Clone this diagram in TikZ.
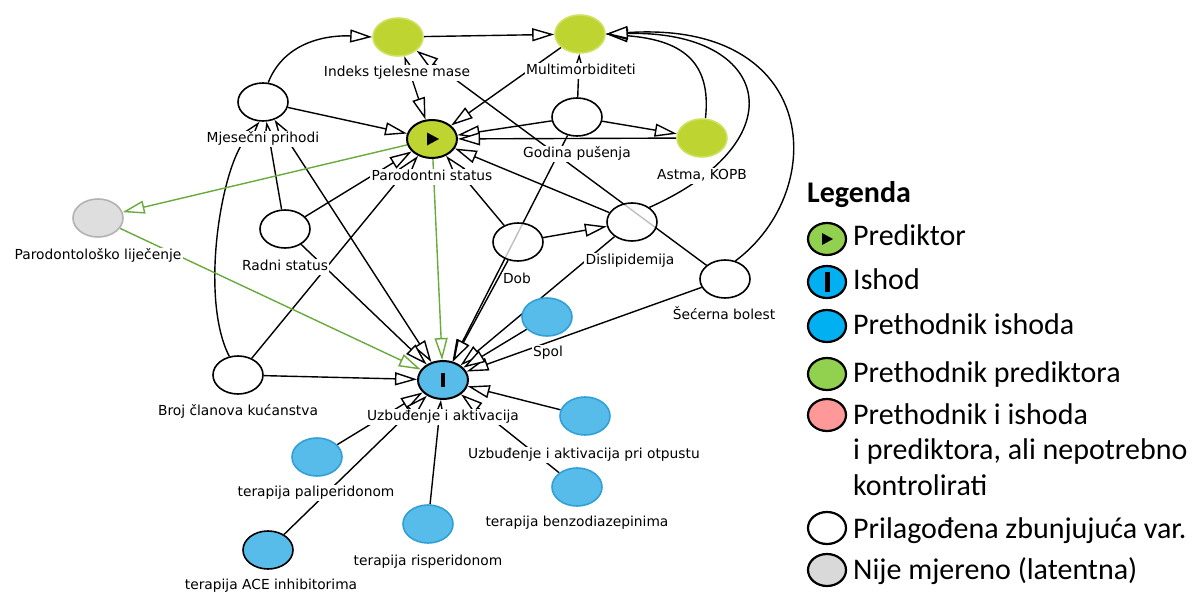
\documentclass[tikz,border=0pt]{standalone}
\usepackage{fontspec}
\setmainfont{DejaVu Sans}
\newfontfamily\legfont{Carlito}
\usetikzlibrary{shapes.geometric,arrows.meta}
\pgfdeclarelayer{background}
\pgfsetlayers{background,main}
\definecolor{dgreen}{RGB}{190,212,48}
\definecolor{dgreenb}{RGB}{208,224,96}
\definecolor{dblue}{RGB}{88,188,234}
\definecolor{dblueb}{RGB}{48,160,214}
\definecolor{dgray}{RGB}{222,222,222}
\definecolor{dgrayb}{RGB}{178,178,178}
\definecolor{egreen}{RGB}{104,170,60}
\definecolor{lgreen}{RGB}{146,208,80}
\definecolor{lblue}{RGB}{0,176,240}
\definecolor{lpink}{RGB}{255,153,153}
\definecolor{lgray}{RGB}{217,217,217}
\begin{document}
\begin{tikzpicture}[x=1pt,y=-1pt,
  >={Triangle[length=22pt,width=13pt,fill=white]},
  var/.style={ellipse,minimum width=50pt,minimum height=38pt,inner sep=0pt,line width=1.6pt},
  adj/.style={var,draw=black,fill=white,fill opacity=0.75,text opacity=1},
  anc/.style={var,draw=dgreenb,fill=dgreen},
  oanc/.style={var,draw=dblueb,fill=dblue},
  lat/.style={var,draw=dgrayb,fill=dgray},
  lbl/.style={fill=white,inner sep=1.2pt,text height=10pt,text depth=3pt,font=\fontsize{13.8}{16}\selectfont},
  ed/.style={line width=1.4pt,->},
  bied/.style={line width=1.4pt,<->},
  ged/.style={line width=1.4pt,->,draw=egreen},
  legell/.style={ellipse,minimum width=38pt,minimum height=32pt,inner sep=0pt,line width=2.2pt,draw=black},
  legtxt/.style={anchor=base west,inner sep=0pt,font=\legfont\fontsize{30}{36}\selectfont}
]
\useasboundingbox (0,0) rectangle (1195,594);
% nodes
\node[anc] (BMI) at (398,37) {};
\node[anc] (MM) at (580,34) {};
\node[adj] (MP) at (263,102) {};
\node[var,draw=black,fill=dgreen,line width=2pt] (PS) at (432,139) {};
\node[adj] (GP) at (577,117) {};
\node[anc] (AK) at (702,138) {};
\node[lat] (PL) at (98,218) {};
\node[adj] (RS) at (285,229) {};
\node[adj] (DOB) at (518,242) {};
\node[adj] (DL) at (632,222) {};
\node[adj] (SB) at (725,279) {};
\node[oanc] (SP) at (547,317) {};
\node[adj] (BC) at (238,375) {};
\node[var,draw=black,fill=dblue,line width=2pt] (UA) at (443,380) {};
\node[oanc] (UO) at (585,416) {};
\node[oanc] (TP) at (317,457) {};
\node[oanc] (TB) at (577,487) {};
\node[oanc] (TR) at (428,524) {};
\node[var,draw=black,fill=dblue] (TA) at (268,550) {};
\fill (PS.center) ++(-5,-6.5) -- ++(0,13) -- ++(12,-6.5) -- cycle;
\fill (UA.center) ++(-2,-7) rectangle ++(4,14);
% edges
\begin{pgfonlayer}{background}
\fill[white] (0,0) rectangle (1195,594);
\draw[ed] (MP.75) .. controls (285,40) and (330,35) .. (BMI.west);
\draw[ed] (BMI) -- (MM);
\draw[bied] (BMI) -- (PS);
\draw[ed] (SB) -- (BMI);
\draw[ed] (MM) -- (PS);
\draw[ed] (GP) -- (MM);
\draw[ed] (MP) -- (PS);
\draw[ed] (GP) -- (PS);
\draw[ed] (AK) -- (PS);
\draw[ed] (GP) -- (AK);
\draw[ed] (AK.80) .. controls (712,60) and (680,40) .. (MM.east);
\draw[ed] (DL.40) .. controls (800,140) and (770,30) .. (MM.east);
\draw[ed] (SB.60) .. controls (830,190) and (820,20) .. (MM.east);
\draw[ed] (DL) -- (PS);
\draw[ed] (DOB) -- (PS);
\draw[ed] (RS) -- (PS);
\draw[ed] (BC) -- (PS);
\draw[ed] (RS) -- (MP);
\draw[ed] (BC.115) .. controls (200,300) and (220,170) .. (MP.260);
\draw[bied] (MP) -- (UA);
\draw[ed] (RS) -- (UA);
\draw[ed] (BC) -- (UA);
\draw[ed] (GP) -- (UA);
\draw[ed] (DOB) -- (UA);
\draw[ed] (DOB) -- (DL);
\draw[ed] (DL) -- (UA);
\draw[ed] (SB) -- (UA);
\draw[ed] (SP) -- (UA);
\draw[ed] (UO) -- (UA);
\draw[ed] (TB) -- (UA);
\draw[ed] (TR) -- (UA);
\draw[ed] (TP) -- (UA);
\draw[ed] (TA) -- (UA);
\draw[ged] (PS) -- (PL);
\draw[ged] (PL) -- (UA);
\draw[ged] (PS) -- (UA);
\end{pgfonlayer}
% labels
\node[lbl] (BMIl) at (397,73) {Indeks tjelesne mase};
\node[lbl] (MMl) at (581,71) {Multimorbiditeti};
\node[lbl] (MPl) at (263,139) {Mjesečni prihodi};
\node[lbl] (PSl) at (432,177) {Parodontni status};
\node[lbl] (GPl) at (577,154) {Godina pušenja};
\node[lbl] (AKl) at (702,176) {Astma, KOPB};
\node[lbl] (PLl) at (98,256) {Parodontološko liječenje};
\node[lbl] (RSl) at (285,267) {Radni status};
\node[lbl] (DOBl) at (517,280) {Dob};
\node[lbl] (DLl) at (630,261) {Dislipidemija};
\node[lbl] (SBl) at (724,316) {Šećerna bolest};
\node[lbl] (SPl) at (548,353) {Spol};
\node[lbl] (BCl) at (238,412) {Broj članova kućanstva};
\node[lbl] (UAl) at (443,417) {Uzbuđenje i aktivacija};
\node[lbl] (UOl) at (584,455) {Uzbuđenje i aktivacija pri otpustu};
\node[lbl] (TPl) at (316,493) {terapija paliperidonom};
\node[lbl] (TBl) at (577,523) {terapija benzodiazepinima};
\node[lbl] (TRl) at (428,562) {terapija risperidonom};
\node[lbl] (TAl) at (271,586) {terapija ACE inhibitorima};
% legend
\node[anchor=base west,inner sep=0pt,font=\legfont\bfseries\fontsize{30}{36}\selectfont] (legT) at (807,202) {Legenda};
\node[legell,fill=lgreen] (L1) at (827,239) {};
\fill (L1.center) ++(-5,-6) -- ++(0,12) -- ++(11,-6) -- cycle;
\node[legtxt] (L1t) at (853,245) {Prediktor};
\node[legell,fill=lblue] (L2) at (827,282) {};
\fill (L2.center) ++(-2.5,-10) rectangle ++(5,20);
\node[legtxt] (L2t) at (853,289) {Ishod};
\node[legell,fill=lblue] (L3) at (827,326) {};
\node[legtxt] (L3t) at (853,334) {Prethodnik ishoda};
\node[legell,fill=lgreen] (L4) at (827,374) {};
\node[legtxt] (L4t) at (853,382) {Prethodnik prediktora};
\node[legell,fill=lpink] (L5) at (827,415) {};
\node[legtxt] (L5t) at (853,424) {Prethodnik i ishoda};
\node[legtxt] (L5u) at (853,459) {i prediktora, ali nepotrebno};
\node[legtxt] (L5v) at (853,495) {kontrolirati};
\node[legell,fill=white] (L6) at (827,528) {};
\node[legtxt] (L6t) at (853,538) {Prilagođena zbunjujuća var.};
\node[legell,fill=lgray] (L7) at (827,570) {};
\node[legtxt] (L7t) at (853,579) {Nije mjereno (latentna)};
\end{tikzpicture}
\end{document}
